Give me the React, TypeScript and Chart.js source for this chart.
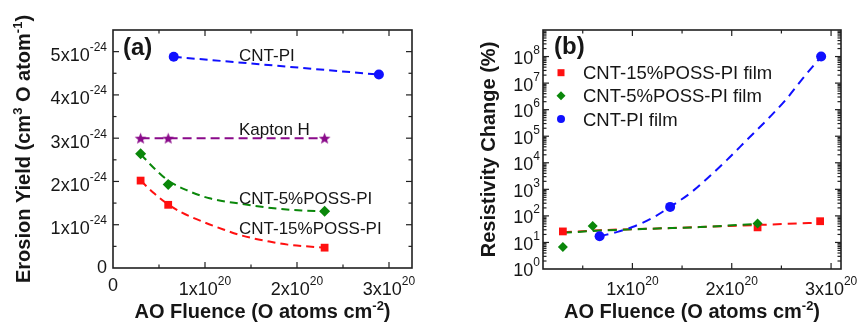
import React, { useEffect, useRef } from 'react';
import { Chart, registerables } from 'chart.js';

Chart.register(...registerables);

// ---------- Panel (a): erosion yield ----------
// x in units of 1e20 O atoms cm^-2, y in units of 1e-24 cm^3 per O atom
const kaptonX = [0.3, 0.6, 2.3];
const kaptonY = [3.0, 3.0, 3.0];
const cntPiXA = [0.66, 2.89];
const cntPiYA = [4.88, 4.47];
const poss5XA = [0.3, 0.6, 2.3];
const poss5YA = [2.64, 1.93, 1.31];
const poss15XA = [0.3, 0.6, 2.3];
const poss15YA = [2.02, 1.46, 0.47];
// dashed fitted curves
const poss5FitXA = [0.3, 0.45, 0.6, 0.8, 1.05, 1.4, 1.75, 2.05, 2.3];
const poss5FitYA = [2.63, 2.3, 2.02, 1.8, 1.61, 1.48, 1.38, 1.33, 1.31];
const poss15FitXA = [0.3, 0.45, 0.6, 0.75, 1.0, 1.2, 1.4, 1.7, 1.9, 2.1, 2.3];
const poss15FitYA = [2.02, 1.72, 1.47, 1.28, 1.05, 0.89, 0.75, 0.61, 0.54, 0.5, 0.47];
const xTicksA = [0, 1, 2, 3];
const xMinorA = [0.5, 1.5, 2.5];
const yTicksA = [0, 1, 2, 3, 4, 5];
const yMinorA = [0.5, 1.5, 2.5, 3.5, 4.5];

// ---------- Panel (b): resistivity change ----------
// x in units of 1e20 O atoms cm^-2, y in %
const poss15XB = [0.3, 2.26, 2.89];
const poss15YB = [26, 37, 63];
const poss5XB = [0.3, 0.6, 2.26];
const poss5YB = [6.8, 42, 52];
const cntPiXB = [0.67, 1.38, 2.9];
const cntPiYB = [17, 218, 1.0e8];
const poss15FitXB = [0.3, 0.68, 1.2, 1.68, 2.3, 2.89];
const poss15FitYB = [24, 29, 33, 38, 46, 56];
const poss5FitXB = [0.3, 0.68, 1.2, 1.68, 2.26];
const poss5FitYB = [23, 28, 33, 38, 50];
const cntPiFitXB = [0.67, 0.85, 1.0, 1.2, 1.38, 1.58, 1.75, 1.95, 2.15, 2.39, 2.55, 2.72, 2.9];
const cntPiFitYB = [17, 25, 38, 83, 219, 708, 2510, 12600, 70800, 562000, 2510000, 15800000, 100000000];
const xTicksB = [1, 2, 3];
const xMinorB = [0.5, 1.5, 2.5];
const yDecadesB = [0, 1, 2, 3, 4, 5, 6, 7, 8];

const legendB = ['CNT-15%POSS-PI film', 'CNT-5%POSS-PI film', 'CNT-PI film'];

const FONT = '"Liberation Sans", Arial, Helvetica, sans-serif';
const INK = '#161616';
const RED = '#ff1010';
const GREEN = '#0a870a';
const BLUE = '#1010ff';
const PURPLE = '#8a0a8a';

type Seg = { t: string; sup?: boolean };

function drawRich(
  ctx: CanvasRenderingContext2D,
  segs: Seg[],
  x: number,
  y: number,
  align: 'left' | 'right' | 'center',
  size: number,
  supSize: number,
  raise: number,
  bold = false
) {
  const fMain = `${bold ? 'bold ' : ''}${size}px ${FONT}`;
  const fSup = `${bold ? 'bold ' : ''}${supSize}px ${FONT}`;
  let w = 0;
  const widths = segs.map((s) => {
    ctx.font = s.sup ? fSup : fMain;
    const m = ctx.measureText(s.t).width;
    w += m;
    return m;
  });
  let cx = align === 'left' ? x : align === 'right' ? x - w : x - w / 2;
  ctx.textAlign = 'left';
  ctx.textBaseline = 'alphabetic';
  segs.forEach((s, i) => {
    ctx.font = s.sup ? fSup : fMain;
    ctx.fillText(s.t, cx, s.sup ? y - raise : y);
    cx += widths[i];
  });
}

function starCanvas(color: string, R: number, r: number) {
  const size = Math.ceil(R * 2 + 2);
  const c = document.createElement('canvas');
  c.width = size;
  c.height = size;
  const g = c.getContext('2d')!;
  g.fillStyle = color;
  g.beginPath();
  for (let i = 0; i < 10; i++) {
    const ang = -Math.PI / 2 + (i * Math.PI) / 5;
    const rad = i % 2 === 0 ? R : r;
    const px = size / 2 + rad * Math.cos(ang);
    const py = size / 2 + 0.6 + rad * Math.sin(ang);
    if (i === 0) g.moveTo(px, py);
    else g.lineTo(px, py);
  }
  g.closePath();
  g.fill();
  return c;
}

const pts = (xs: number[], ys: number[]) => xs.map((x, i) => ({ x, y: ys[i] }));

function markerDs(label: string, xs: number[], ys: number[], color: string, style: any, radius: number) {
  return {
    label,
    data: pts(xs, ys),
    showLine: false,
    pointStyle: style,
    pointRadius: radius,
    pointBackgroundColor: color,
    pointBorderColor: color,
    pointBorderWidth: 0,
    order: 0,
  };
}

function fitDs(label: string, xs: number[], ys: number[], color: string, dash: number[]) {
  return {
    label,
    data: pts(xs, ys),
    showLine: true,
    borderColor: color,
    borderWidth: 2,
    borderDash: dash,
    pointRadius: 0,
    fill: false,
    cubicInterpolationMode: 'monotone',
    order: 1,
  };
}

function drawFrame(
  chart: any,
  xMajor: number[],
  xMinor: number[],
  yMajor: number[],
  yMinor: number[]
) {
  const { ctx, chartArea: a, scales } = chart;
  const xs = scales.x;
  const ys = scales.y;
  ctx.save();
  ctx.strokeStyle = '#202020';
  ctx.lineWidth = 1.2;
  const tick = (px: number, py: number, dx: number, dy: number) => {
    ctx.beginPath();
    ctx.moveTo(px, py);
    ctx.lineTo(px + dx, py + dy);
    ctx.stroke();
  };
  xMajor.forEach((v) => {
    const p = xs.getPixelForValue(v);
    if (p <= a.left + 1 || p >= a.right - 1) return;
    tick(p, a.bottom, 0, -6);
    tick(p, a.top, 0, 6);
  });
  xMinor.forEach((v) => {
    const p = xs.getPixelForValue(v);
    tick(p, a.bottom, 0, -3.5);
    tick(p, a.top, 0, 3.5);
  });
  yMajor.forEach((v) => {
    const p = ys.getPixelForValue(v);
    if (p >= a.bottom - 1 || p <= a.top + 1) return;
    tick(a.left, p, 6, 0);
    tick(a.right, p, -6, 0);
  });
  yMinor.forEach((v) => {
    const p = ys.getPixelForValue(v);
    tick(a.left, p, 3.5, 0);
    tick(a.right, p, -3.5, 0);
  });
  ctx.lineWidth = 1.6;
  ctx.strokeRect(a.left, a.top, a.right - a.left, a.bottom - a.top);
  ctx.restore();
}

function rotatedTitle(ctx: CanvasRenderingContext2D, segs: Seg[], xBase: number, yCenter: number) {
  ctx.save();
  ctx.translate(xBase, yCenter);
  ctx.rotate(-Math.PI / 2);
  drawRich(ctx, segs, 0, 0, 'center', 20, 13, 8, true);
  ctx.restore();
}

const xTitleSegs: Seg[] = [{ t: 'AO Fluence (O atoms cm' }, { t: '-2', sup: true }, { t: ')' }];

const pluginA = {
  id: 'panelA',
  afterDatasetsDraw(chart: any) {
    const { ctx, chartArea: a, scales } = chart;
    drawFrame(chart, xTicksA, xMinorA, yTicksA, yMinorA);
    ctx.save();
    ctx.fillStyle = INK;
    xTicksA.forEach((v) => {
      const p = scales.x.getPixelForValue(v);
      if (v === 0) drawRich(ctx, [{ t: '0' }], p, 291, 'center', 18, 12, 10);
      else drawRich(ctx, [{ t: `${v}x10` }, { t: '20', sup: true }], p, 294.5, 'center', 18, 12, 10);
    });
    yTicksA.forEach((v) => {
      const p = scales.y.getPixelForValue(v);
      if (v === 0) drawRich(ctx, [{ t: '0' }], a.left - 6, p + 4.5, 'right', 18, 12, 10);
      else drawRich(ctx, [{ t: `${v}x10` }, { t: '-24', sup: true }], a.left - 6, p + 9.4, 'right', 18, 12, 10);
    });
    rotatedTitle(
      ctx,
      [{ t: 'Erosion Yield (cm' }, { t: '3', sup: true }, { t: ' O atom' }, { t: '-1', sup: true }, { t: ')' }],
      29.5,
      (a.top + a.bottom) / 2
    );
    drawRich(ctx, xTitleSegs, (a.left + a.right) / 2, 318, 'center', 20, 13, 8, true);
    drawRich(ctx, [{ t: '(a)' }], 123, 54.5, 'left', 24, 12, 0, true);
    drawRich(ctx, [{ t: 'CNT-PI' }], 239, 60.5, 'left', 17, 12, 0);
    drawRich(ctx, [{ t: 'Kapton H' }], 239, 134.5, 'left', 17, 12, 0);
    drawRich(ctx, [{ t: 'CNT-5%POSS-PI' }], 239, 203.5, 'left', 17, 12, 0);
    drawRich(ctx, [{ t: 'CNT-15%POSS-PI' }], 239, 233.5, 'left', 17, 12, 0);
    ctx.restore();
  },
};

function legendMarker(ctx: CanvasRenderingContext2D, kind: string, x: number, y: number, color: string) {
  ctx.fillStyle = color;
  ctx.beginPath();
  if (kind === 'rect') {
    ctx.rect(x - 3.5, y - 3.5, 7, 7);
  } else if (kind === 'rectRot') {
    ctx.moveTo(x, y - 4.5);
    ctx.lineTo(x + 4.5, y);
    ctx.lineTo(x, y + 4.5);
    ctx.lineTo(x - 4.5, y);
    ctx.closePath();
  } else {
    ctx.arc(x, y, 4, 0, Math.PI * 2);
  }
  ctx.fill();
}

const minorLogB: number[] = [];
yDecadesB.forEach((d) => {
  for (let k = 2; k <= 9; k++) minorLogB.push(k * Math.pow(10, d));
});

const pluginB = {
  id: 'panelB',
  afterDatasetsDraw(chart: any) {
    const { ctx, chartArea: a, scales } = chart;
    drawFrame(
      chart,
      xTicksB,
      xMinorB,
      yDecadesB.map((d) => Math.pow(10, d)),
      minorLogB
    );
    ctx.save();
    ctx.fillStyle = INK;
    xTicksB.forEach((v) => {
      const p = scales.x.getPixelForValue(v);
      drawRich(ctx, [{ t: `${v}x10` }, { t: '20', sup: true }], p, 294.5, 'center', 18, 12, 10);
    });
    yDecadesB.forEach((d) => {
      const p = scales.y.getPixelForValue(Math.pow(10, d));
      drawRich(ctx, [{ t: '10' }, { t: `${d}`, sup: true }], a.left - 3, p + 7.4, 'right', 18, 12, 10);
    });
    rotatedTitle(ctx, [{ t: 'Resistivity Change (%)' }], 65, (a.top + a.bottom) / 2);
    drawRich(ctx, xTitleSegs, (a.left + a.right) / 2, 318, 'center', 20, 13, 8, true);
    drawRich(ctx, [{ t: '(b)' }], 124, 54, 'left', 24, 12, 0, true);
    const kinds = ['rect', 'rectRot', 'circle'];
    const colors = [RED, GREEN, BLUE];
    const rows = [72.7, 95.7, 119];
    legendB.forEach((txt, i) => {
      legendMarker(ctx, kinds[i], 131, rows[i], colors[i]);
      ctx.fillStyle = INK;
      drawRich(ctx, [{ t: txt }], 153, rows[i] + 6.6, 'left', 18.5, 12, 0);
    });
    ctx.restore();
  },
};

function baseOptions(
  xMin: number,
  xMax: number,
  yType: string,
  yMin: number,
  yMax: number,
  rightPad: number,
  xHeight: number
) {
  return {
    animation: false,
    responsive: false,
    events: [],
    layout: { padding: { left: 0, right: rightPad, top: 30, bottom: 0 } },
    plugins: { legend: { display: false }, tooltip: { enabled: false } },
    scales: {
      x: {
        type: 'linear',
        min: xMin,
        max: xMax,
        ticks: { display: false },
        grid: { display: false },
        border: { display: false },
        afterFit: (s: any) => {
          s.height = xHeight;
        },
      },
      y: {
        type: yType,
        min: yMin,
        max: yMax,
        ticks: { display: false },
        grid: { display: false },
        border: { display: false },
        afterFit: (s: any) => {
          s.width = 113;
        },
      },
    },
  };
}

function buildA(): any {
  const star = starCanvas(PURPLE, 6.2, 2.6);
  return {
    type: 'scatter',
    data: {
      datasets: [
        markerDs('CNT-PI', cntPiXA, cntPiYA, BLUE, 'circle', 5),
        markerDs('Kapton H', kaptonX, kaptonY, PURPLE, star, 6),
        markerDs('CNT-5%POSS-PI', poss5XA, poss5YA, GREEN, 'rectRot', 5.5),
        markerDs('CNT-15%POSS-PI', poss15XA, poss15YA, RED, 'rect', 5.5),
        fitDs('CNT-PI fit', cntPiXA, cntPiYA, BLUE, [8, 5]),
        fitDs('Kapton H fit', kaptonX, kaptonY, PURPLE, [9, 5]),
        fitDs('CNT-5%POSS-PI fit', poss5FitXA, poss5FitYA, GREEN, [8, 5]),
        fitDs('CNT-15%POSS-PI fit', poss15FitXA, poss15FitYA, RED, [8, 5]),
      ],
    },
    options: baseOptions(0, 3.25, 'linear', 0, 5.5, 18, 54),
    plugins: [pluginA],
  };
}

function buildB(): any {
  return {
    type: 'scatter',
    data: {
      datasets: [
        markerDs('CNT-PI film', cntPiXB, cntPiYB, BLUE, 'circle', 5),
        markerDs('CNT-5%POSS-PI film', poss5XB, poss5YB, GREEN, 'rectRot', 5),
        markerDs('CNT-15%POSS-PI film', poss15XB, poss15YB, RED, 'rect', 5.5),
        fitDs('CNT-PI fit', cntPiFitXB, cntPiFitYB, BLUE, [9, 6]),
        fitDs('CNT-5%POSS-PI fit', poss5FitXB, poss5FitYB, GREEN, [9, 6]),
        fitDs('CNT-15%POSS-PI fit', poss15FitXB, poss15FitYB, RED, [9, 6]),
      ],
    },
    options: baseOptions(0.1, 3.1, 'logarithmic', 1, 1e9, 22, 53),
    plugins: [pluginB],
  };
}

export default function App() {
  const refA = useRef<HTMLCanvasElement>(null);
  const refB = useRef<HTMLCanvasElement>(null);
  useEffect(() => {
    const ca = new Chart(refA.current!, buildA());
    const cb = new Chart(refB.current!, buildB());
    return () => {
      ca.destroy();
      cb.destroy();
    };
  }, []);
  return (
    <div
      style={{
        position: 'fixed',
        left: 0,
        top: 0,
        width: 863,
        height: 322,
        background: '#ffffff',
        overflow: 'hidden',
      }}
    >
      <canvas
        ref={refA}
        width={430}
        height={322}
        style={{ position: 'absolute', left: 0, top: 0, width: 430, height: 322 }}
      />
      <canvas
        ref={refB}
        width={433}
        height={322}
        style={{ position: 'absolute', left: 430, top: 0, width: 433, height: 322 }}
      />
    </div>
  );
}
